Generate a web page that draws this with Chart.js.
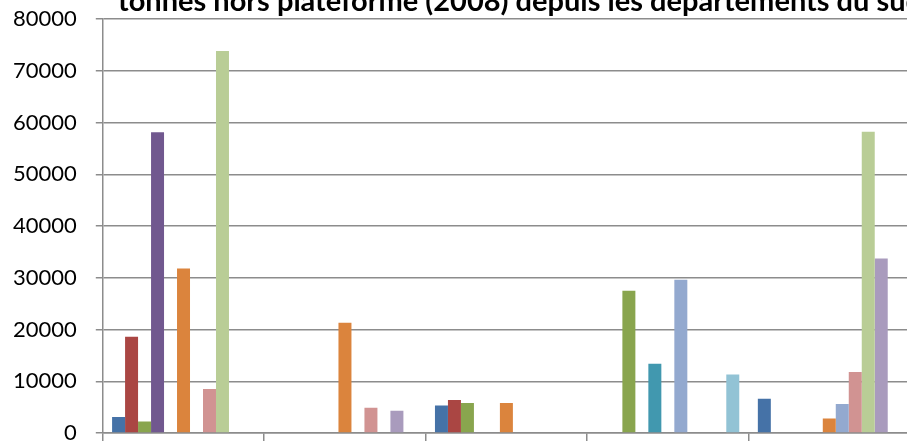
<!DOCTYPE html>
<html>
<head>
<meta charset="utf-8">
<script src="https://cdn.jsdelivr.net/npm/chart.js@4.4.1/dist/chart.umd.min.js"></script>
<style>
  html, body { margin: 0; padding: 0; background: #fff; overflow: hidden; }
  #wrap { position: relative; width: 912px; height: 442px; }
</style>
</head>
<body>
<div id="wrap"><canvas id="c"></canvas></div>
<script>
const titleText = "tonnes hors plateforme (2008) depuis les départements du sud";
const categories = ["1", "2", "3", "4", "5"];
const seriesNames = ["Série 1", "Série 2", "Série 3", "Série 4", "Série 5", "Série 6",
                     "Série 7", "Série 8", "Série 9", "Série 10", "Série 11"];
const seriesColors = ["#4572A7", "#AA4643", "#89A54E", "#71588F", "#4198AF", "#DB843D",
                      "#93A9CF", "#D19392", "#B9CD96", "#A99BBD", "#92C3D5"];
const s1  = [3100,  null, 5300, null,  6600];
const s2  = [18600, null, 6400, null,  null];
const s3  = [2200,  null, 5800, 27500, null];
const s4  = [58100, null, null, null,  null];
const s5  = [null,  null, null, 13400, null];
const s6  = [31800, 21300, 5800, null, 2800];
const s7  = [null,  null, null, 29600, 5600];
const s8  = [8500,  4900, null, null,  11800];
const s9  = [73800, null, null, null,  58200];
const s10 = [null,  4300, null, null,  33700];
const s11 = [null,  null, null, 11300, null];
const seriesValues = [s1, s2, s3, s4, s5, s6, s7, s8, s9, s10, s11];
const yTicks = [0, 10000, 20000, 30000, 40000, 50000, 60000, 70000, 80000];

const gridColor = "#8c8c8c";

const titlePlugin = {
  id: "cutTitle",
  afterDraw(chart) {
    const ctx = chart.ctx;
    ctx.save();
    ctx.font = "bold 29px Lato";
    ctx.fillStyle = "#000";
    ctx.textAlign = "left";
    ctx.textBaseline = "alphabetic";
    ctx.fillText(titleText, 118, 11);
    ctx.restore();
  }
};

new Chart(document.getElementById("c"), {
  type: "bar",
  data: {
    labels: categories,
    datasets: seriesValues.map((v, i) => ({
      label: seriesNames[i],
      data: v,
      backgroundColor: seriesColors[i],
      borderWidth: 0,
      categoryPercentage: 0.885,
      barPercentage: 1.0
    }))
  },
  options: {
    responsive: true,
    maintainAspectRatio: false,
    animation: false,
    layout: { padding: { top: 19, left: -6, right: 2, bottom: 1 } },
    plugins: {
      legend: { display: false },
      title: { display: false },
      tooltip: { enabled: false }
    },
    scales: {
      x: {
        grid: {
          offset: true,
          drawOnChartArea: false,
          drawTicks: true,
          tickLength: 8,
          color: gridColor,
          lineWidth: 1.5
        },
        border: { color: gridColor, width: 1.5 },
        ticks: { display: false }
      },
      y: {
        min: 0,
        max: 80000,
        afterBuildTicks(scale) { scale.ticks = yTicks.map(v => ({ value: v })); },
        afterFit(scale) { scale.paddingTop = 0; scale.paddingBottom = 0; },
        grid: {
          color: gridColor,
          lineWidth: 1.5,
          drawTicks: true,
          tickLength: 7
        },
        border: { color: gridColor, width: 1.5 },
        ticks: {
          color: "#000",
          font: { family: "Lato", size: 22 },
          padding: 19,
          callback: v => String(v)
        }
      }
    }
  },
  plugins: [titlePlugin]
});
</script>
</body>
</html>
